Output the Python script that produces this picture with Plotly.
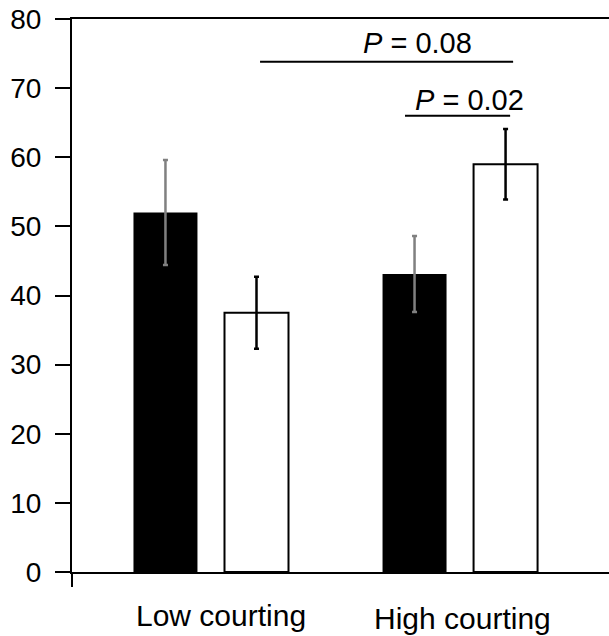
import plotly.graph_objects as go

categories = ["Low courting", "High courting"]
black_vals = [52.0, 43.1]
black_err = [7.6, 5.5]
white_vals = [37.5, 59.0]
white_err = [5.2, 5.1]
y_ticks = [0, 10, 20, 30, 40, 50, 60, 70, 80]
p_labels = ["<i>P</i> = 0.08", "<i>P</i> = 0.02"]

FONT = "Liberation Sans, Arial, sans-serif"

fig = go.Figure()
fig.add_bar(x=categories, y=black_vals, marker=dict(color="black", line=dict(color="black", width=0)),
            error_y=dict(type="data", array=black_err, color="#808080", thickness=2.5, width=2.5),
            showlegend=False)
fig.add_bar(x=categories, y=white_vals, marker=dict(color="white", line=dict(color="black", width=2)),
            error_y=dict(type="data", array=white_err, color="black", thickness=2.5, width=2.5),
            showlegend=False)

fig.update_layout(
    width=609, height=636,
    margin=dict(l=72, r=0, t=19, b=64),
    paper_bgcolor="white", plot_bgcolor="white",
    barmode="group", bargap=0.269, bargroupgap=0.297,
    font=dict(family=FONT, color="black"),
)
fig.update_xaxes(range=[-0.558, 1.598], showline=True, linecolor="black", linewidth=2,
                 mirror=True, showticklabels=False, ticks="", showgrid=False, zeroline=False)
fig.update_yaxes(range=[0, 80], tickvals=y_ticks, showline=True, linecolor="black", linewidth=2,
                 ticks="outside", ticklen=15, tickwidth=2, tickcolor="black",
                 tickfont=dict(size=28, family=FONT, color="black"),
                 showgrid=False, zeroline=False, ticklabelstandoff=8)

# y axis extension below the x axis
fig.add_shape(type="line", xref="paper", yref="paper", x0=0, x1=0, y0=0, y1=-15/553,
              line=dict(color="black", width=2))

# category labels
for i, (cat, shift, ysh) in enumerate(zip(categories, [10, 2], [0, -3])):
    fig.add_annotation(x=i, y=0, xref="x", yref="paper", text=cat, showarrow=False,
                       yanchor="top", yshift=-25 + ysh, xshift=shift,
                       font=dict(size=30, family=FONT, color="black"))

# significance lines
sig_lines = [(0.197, 1.213, 73.8), (0.779, 1.201, 66.0)]
sig_text = [(0.831, 76.6), (1.036, 68.3)]
for (x0, x1, yv), (tx, ty), lab in zip(sig_lines, sig_text, p_labels):
    fig.add_shape(type="line", xref="x", yref="y", x0=x0, x1=x1, y0=yv, y1=yv,
                  line=dict(color="black", width=2))
    fig.add_annotation(x=tx, y=ty, xref="x", yref="y", text=lab, showarrow=False,
                       font=dict(size=29, family=FONT, color="black"))

fig.write_html("out.html")
